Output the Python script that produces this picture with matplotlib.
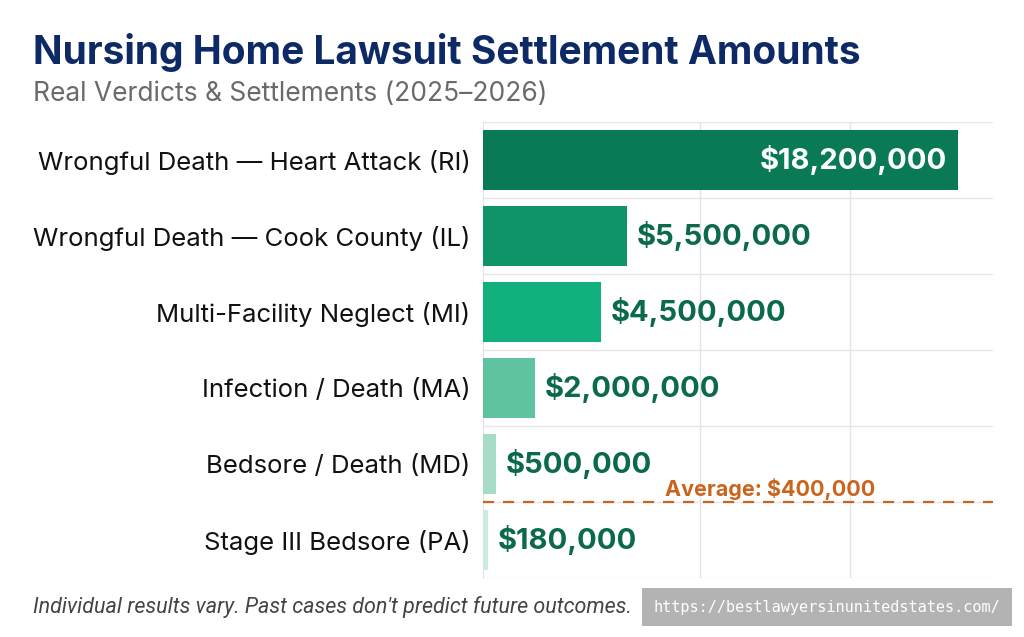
import matplotlib.pyplot as plt
import numpy as np

# chart data
cases = [
    "Wrongful Death — Heart Attack (RI)",
    "Wrongful Death — Cook County (IL)",
    "Multi-Facility Neglect (MI)",
    "Infection / Death (MA)",
    "Bedsore / Death (MD)",
    "Stage III Bedsore (PA)",
]
amounts = [18200000, 5500000, 4500000, 2000000, 500000, 180000]
average = 400000
bar_colors = ["#0a7a56", "#0f9469", "#13b07f", "#5ec39e", "#a7dcc7", "#cdece0"]

title = "Nursing Home Lawsuit Settlement Amounts"
subtitle = "Real Verdicts & Settlements (2025–2026)"
footnote = "Individual results vary. Past cases don't predict future outcomes."
watermark = "https://bestlawyersinunitedstates.com/"

plt.rcParams["font.family"] = ["Inter", "DejaVu Sans"]

fig = plt.figure(figsize=(10.24, 6.37), dpi=100)
ax = fig.add_axes([0.4717, 0.0926, 0.4985, 0.716])

y = np.arange(len(cases))
ax.barh(y, amounts, height=0.78, color=bar_colors, zorder=3)

ax.set_xlim(0, 19.54e6)
ax.set_ylim(len(cases) - 0.5, -0.5)

# grid: vertical lines + horizontal lines every half row
ax.set_xticks([8.31e6, 14.06e6])
ax.set_yticks(np.arange(-0.5, len(cases), 0.5), minor=True)
ax.grid(axis="x", color="#e3e3e3", linewidth=1, zorder=0)
ax.grid(axis="y", which="minor", color="#e6e6e6", linewidth=1, zorder=0)
ax.tick_params(axis="x", length=0, labelbottom=False)
ax.tick_params(axis="y", which="both", length=0)

ax.set_yticks(y)
ax.set_yticklabels(cases, fontsize=18.5, color="#111111")
ax.tick_params(axis="y", pad=9)

for s in ["top", "right", "bottom"]:
    ax.spines[s].set_visible(False)
ax.spines["left"].set_color("#e3e3e3")

# value labels
for i, v in enumerate(amounts):
    txt = "${:,.0f}".format(v)
    if i == 0:
        ax.annotate(txt, (v, i), xytext=(-8, 0), textcoords="offset points",
                    ha="right", va="center", fontsize=21, fontweight="bold",
                    color="white", zorder=5)
    else:
        ax.annotate(txt, (v, i), xytext=(7, 0), textcoords="offset points",
                    ha="left", va="center", fontsize=21, fontweight="bold",
                    color="#0b6a48", zorder=5)

# average line
ax.axhline(4.5, color="#c8651e", linestyle=(0, (5, 4)), linewidth=1.6, zorder=4)
ax.text(11.0e6, 4.47, "Average: ${:,.0f}".format(average), ha="center", va="bottom",
        fontsize=15.5, fontweight="bold", color="#c8651e", zorder=5)

fig.text(0.032, 0.917, title, fontsize=28, fontweight="bold", color="#0d2a66", va="center")
fig.text(0.032, 0.853, subtitle, fontsize=19, color="#6a6a6a", va="center")
fig.text(0.032, 0.047, footnote, fontsize=15.5, style="italic", color="#444444",
         va="center", family=["Roboto", "DejaVu Sans"])
fig.text(0.977, 0.047, watermark, fontsize=11, color="white", va="center", ha="right",
         family="DejaVu Sans Mono",
         bbox=dict(boxstyle="square,pad=0.75", facecolor="#b3b3b3", edgecolor="none"))

fig.savefig("out.png", dpi=100)
